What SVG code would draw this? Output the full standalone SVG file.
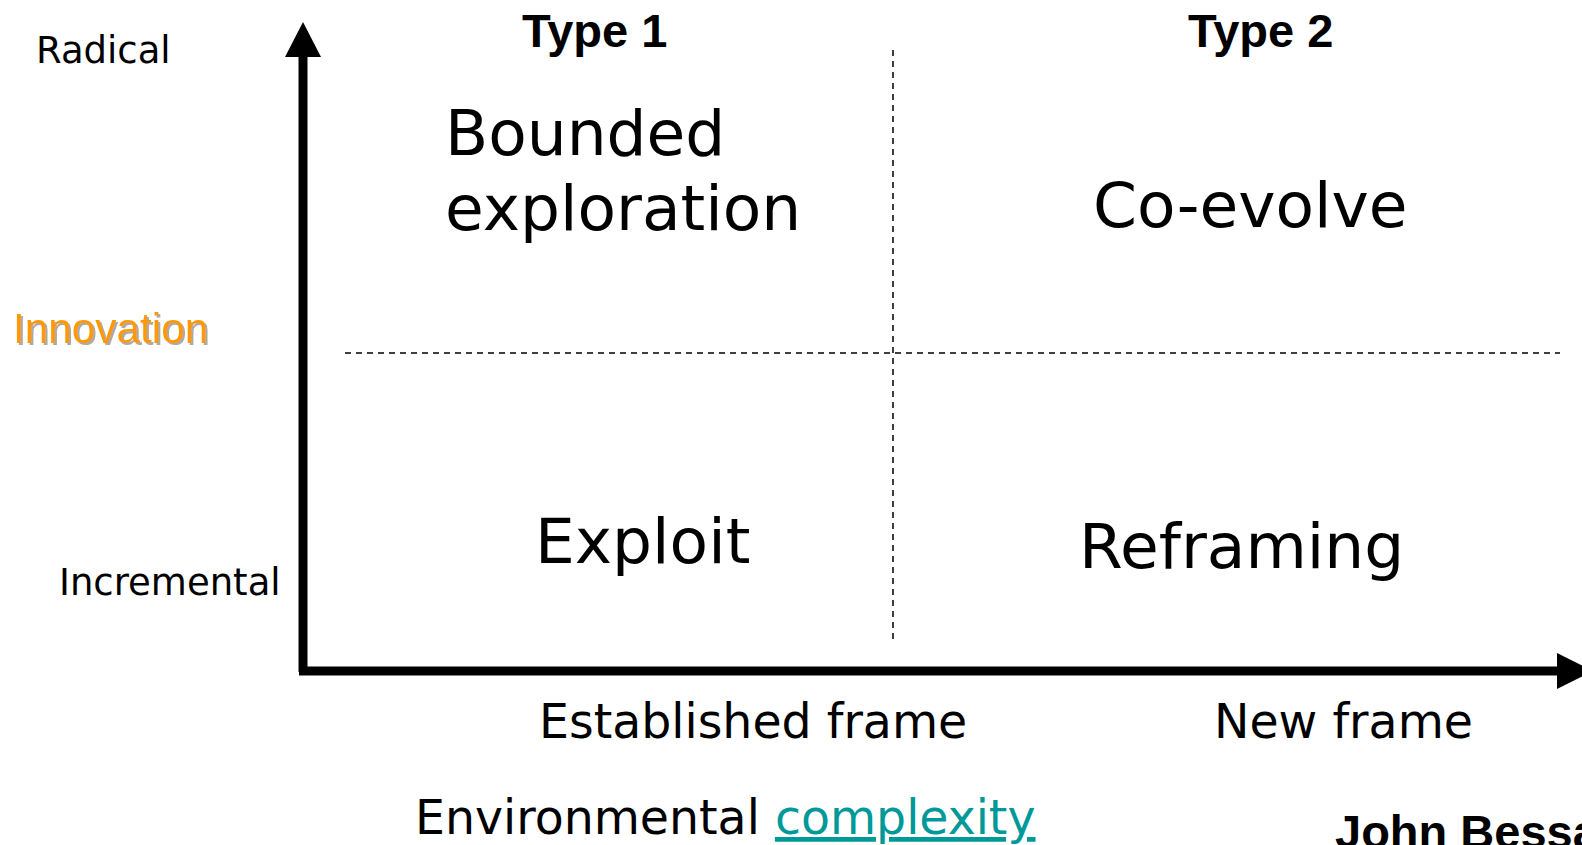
<svg xmlns="http://www.w3.org/2000/svg" width="1582" height="845" viewBox="0 0 1582 845">
  <style>
    .sans { font-family: "DejaVu Sans", Verdana, sans-serif; fill: #000; }
    .big { font-size: 63px; }
    .mid { font-size: 47.4px; }
    .small { font-size: 37px; }
    .head { font-family: "Liberation Sans", Arial, sans-serif; font-weight: bold; font-size: 47px; fill: #000; }
    .axis { stroke: #000; stroke-width: 9; fill: none; }
    .grid { stroke: #000; stroke-width: 1.5; stroke-dasharray: 6 5; fill: none; }
  </style>
  <defs>
    <filter id="soft-shadow" x="-10%" y="-20%" width="120%" height="140%">
      <feOffset dx="2" dy="2" in="SourceAlpha" result="off"/>
      <feFlood flood-color="#aaa" result="c"/>
      <feComposite in="c" in2="off" operator="in" result="sh"/>
      <feMerge><feMergeNode in="sh"/><feMergeNode in="SourceGraphic"/></feMerge>
    </filter>
  </defs>
  <rect width="1582" height="845" fill="#fff"/>

  <!-- axes and quadrant dividers -->
  <g id="connectors">
    <line class="axis" x1="303" y1="56" x2="303" y2="672"/>
    <polygon points="303,22 285,57 321,57" fill="#000"/>
    <line class="axis" x1="299" y1="671" x2="1560" y2="671"/>
    <polygon points="1593,671 1557,653 1557,689" fill="#000"/>
    <line class="grid" x1="345" y1="353" x2="1560" y2="353"/>
    <line class="grid" x1="893" y1="50" x2="893" y2="642"/>
  </g>

  <g id="axis-labels">
    <text class="sans small" x="36" y="63">Radical</text>
    <text class="sans small" x="59" y="595">Incremental</text>
    <text x="13" y="343" font-family="Liberation Sans, Arial, sans-serif" font-size="42.3" fill="#FF9900" filter="url(#soft-shadow)">Innovation</text>
    <text class="sans mid" x="539" y="738">Established frame</text>
    <text class="sans mid" x="1214" y="738">New frame</text>
    <text class="sans mid" x="415" y="834">Environmental <tspan fill="#009999" text-decoration="underline">complexity</tspan></text>
  </g>

  <g id="type-1"><text class="head" x="522" y="47">Type 1</text></g>
  <g id="type-2"><text class="head" x="1188" y="47">Type 2</text></g>

  <g id="bounded-exploration">
    <text class="sans big" x="445" y="155">Bounded</text>
    <text class="sans big" x="445" y="230">exploration</text>
  </g>
  <g id="co-evolve"><text class="sans big" x="1093" y="227">Co-evolve</text></g>
  <g id="exploit"><text class="sans big" x="535" y="563">Exploit</text></g>
  <g id="reframing"><text class="sans big" x="1079" y="568">Reframing</text></g>

  <g id="credit"><text class="head" x="1335" y="848">John Bessant</text></g>
</svg>
